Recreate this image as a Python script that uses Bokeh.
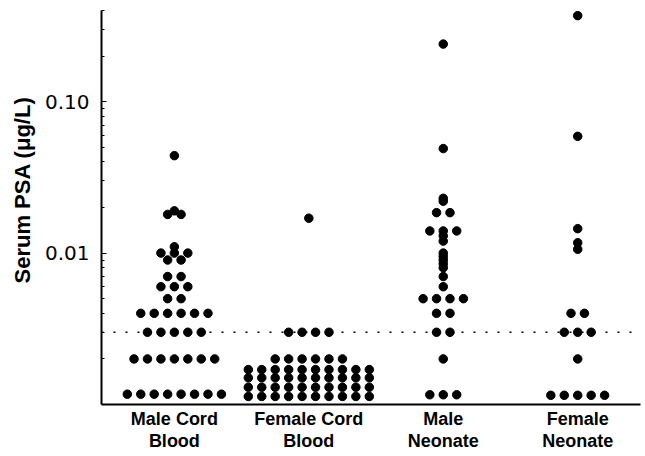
from bokeh.plotting import figure
from bokeh.models import FixedTicker, PrintfTickFormatter, Span, ColumnDataSource, Range1d, Title
from bokeh.embed import file_html
from bokeh.resources import INLINE

# ---- data ----
group_labels = ["Male Cord\nBlood", "Female Cord\nBlood", "Male\nNeonate", "Female\nNeonate"]
group_pos = [1, 2, 3, 4]
y_title = "Serum PSA (\u03bcg/L)"

male_cord_psa = [0.00117, 0.002, 0.003, 0.004, 0.005, 0.006, 0.007, 0.009, 0.010, 0.011, 0.018, 0.019, 0.044]
male_cord_n = [8, 7, 5, 6, 2, 3, 2, 2, 3, 1, 2, 1, 1]

female_cord_psa = [0.00113, 0.0013, 0.0015, 0.0017, 0.002, 0.003, 0.017]
female_cord_n = [10, 10, 10, 10, 6, 4, 1]

male_neonate_psa = [0.00116, 0.002, 0.003, 0.004, 0.005, 0.006, 0.007, 0.008, 0.0085, 0.009,
                    0.0095, 0.010, 0.012, 0.013, 0.014, 0.0185, 0.022, 0.023, 0.049, 0.24]
male_neonate_n = [3, 1, 2, 2, 4, 1, 1, 1, 1, 1, 1, 1, 1, 1, 3, 2, 1, 1, 1, 1]

female_neonate_psa = [0.00115, 0.002, 0.003, 0.004, 0.0106, 0.0117, 0.0145, 0.059, 0.37]
female_neonate_n = [5, 1, 3, 2, 1, 1, 1, 1, 1]

reference_level = 0.003
y_major_ticks = [0.01, 0.1]
y_minor_ticks = [0.002, 0.003, 0.004, 0.005, 0.006, 0.007, 0.008, 0.009,
                 0.02, 0.03, 0.04, 0.05, 0.06, 0.07, 0.08, 0.09, 0.2, 0.3, 0.4]

# ---- build dot-plot positions (symmetric rows for tied values) ----
dot_step = 0.1
groups = [(male_cord_psa, male_cord_n), (female_cord_psa, female_cord_n),
          (male_neonate_psa, male_neonate_n), (female_neonate_psa, female_neonate_n)]
xs, ys = [], []
for pos, (vals, counts) in zip(group_pos, groups):
    for v, n in zip(vals, counts):
        for i in range(n):
            xs.append(pos + (i - (n - 1) / 2) * dot_step)
            ys.append(v)
src = ColumnDataSource(dict(x=xs, y=ys))

p = figure(width=645, height=456, y_axis_type="log",
           x_range=Range1d(0.458, 4.467), y_range=Range1d(0.001, 0.4),
           output_backend="svg", toolbar_location=None,
           min_border_left=100, min_border_right=5, min_border_top=10, min_border_bottom=52)
p.outline_line_color = None
p.xgrid.visible = False
p.ygrid.visible = False
p.background_fill_color = "white"
p.border_fill_color = "white"

p.add_layout(Span(location=reference_level, dimension="width", line_color="black",
                  line_dash="2 10", line_width=1.7))

p.scatter("x", "y", source=src, size=8.5, fill_color="black", line_color="black")

# y axis
ya = p.yaxis[0]
ya.ticker = FixedTicker(ticks=y_major_ticks, minor_ticks=y_minor_ticks)
ya.formatter = PrintfTickFormatter(format="%.2f")
ya.axis_line_width = 2
ya.axis_line_color = "black"
ya.major_tick_in = 5
ya.major_tick_out = 0
ya.minor_tick_in = 3
ya.minor_tick_out = 0
ya.major_tick_line_color = "black"
ya.minor_tick_line_color = "black"
ya.major_label_standoff = 12
ya.major_label_text_font = "DejaVu Sans"
ya.major_label_text_font_size = "20px"
ya.major_label_text_color = "black"

# y title as a side title, positioned like the reference
p.add_layout(Title(text=y_title, align="left", offset=121, standoff=14,
                   text_font="Liberation Sans", text_font_style="bold",
                   text_font_size="22px", text_color="black"), "left")

# x axis
xa = p.xaxis[0]
xa.ticker = FixedTicker(ticks=group_pos, minor_ticks=[])
xa.major_label_overrides = {pos: lab for pos, lab in zip(group_pos, group_labels)}
xa.axis_line_width = 2
xa.axis_line_color = "black"
xa.major_tick_in = 0
xa.major_tick_out = 0
xa.minor_tick_in = 0
xa.minor_tick_out = 0
xa.major_label_standoff = 4
xa.major_label_text_font = "Liberation Sans"
xa.major_label_text_font_style = "bold"
xa.major_label_text_font_size = "18px"
xa.major_label_text_color = "black"
xa.major_label_text_line_height = 1.1

open("out.html", "w").write(file_html(p, INLINE))
